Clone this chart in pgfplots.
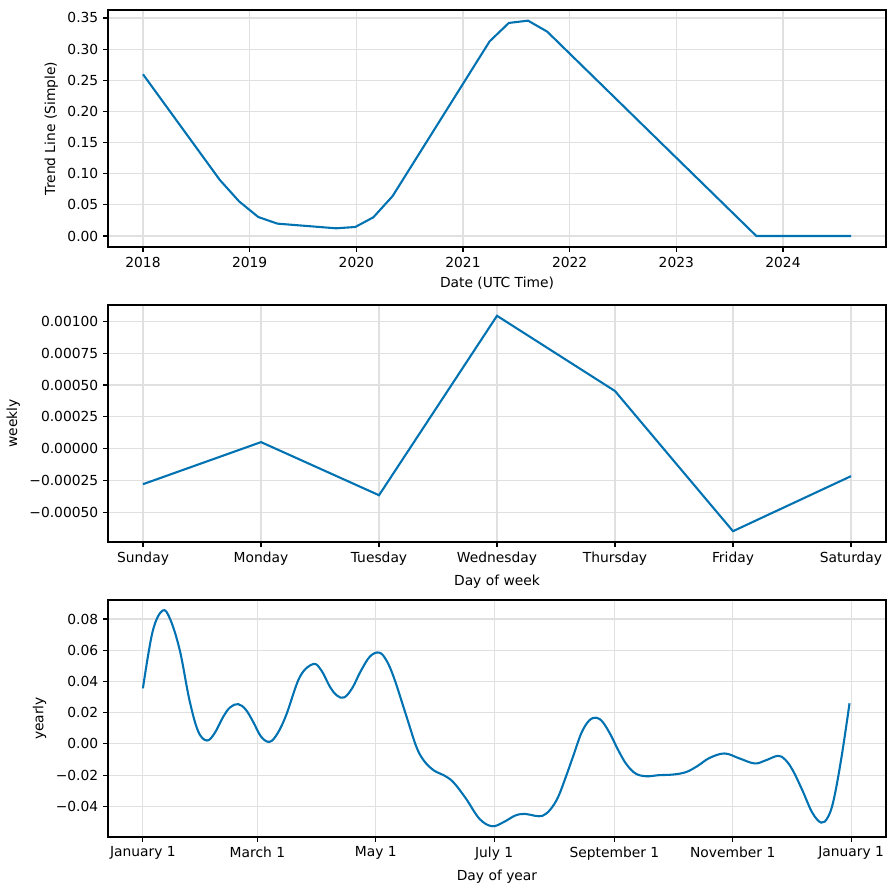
\documentclass[border=0pt]{standalone}
\usepackage{pgfplots}
\pgfplotsset{compat=1.18}
\usepackage{fontspec}
\setmainfont{DejaVu Sans}
\definecolor{pline}{HTML}{0072B2}
\pgfplotsset{
  every axis/.append style={
    scale only axis,
    width=560.16bp, height=170.64bp,
    anchor=south west,
    axis line style={line width=0.8bp},
    tick pos=left,
    tick align=outside,
    major tick length=3.5bp,
    every tick/.style={black, line width=0.8bp},
    grid=major,
    major grid style={black!12, line width=0.8bp},
    scaled ticks=false,
    tick label style={font=\fontsize{10}{12}\selectfont},
    label style={font=\fontsize{10}{12}\selectfont},
    /pgf/number format/assume math mode=true,
  },
}
\begin{document}
\begin{tikzpicture}
\path[use as bounding box] (0,0) rectangle (644.4bp,640.8bp);
% Panel 1
\begin{axis}[at={(77.76bp,462.96bp)},
  xmin=2017.672, xmax=2024.966, ymin=-0.0177, ymax=0.3628,
  xtick={2018,2019,2020,2021,2022,2023,2024},
  xticklabels={2018,2019,2020,2021,2022,2023,2024},
  ytick={0,0.05,0.1,0.15,0.2,0.25,0.3,0.35},
  yticklabels={0.00,0.05,0.10,0.15,0.20,0.25,0.30,0.35},
  xlabel={Date (UTC Time)}, ylabel={Trend Line (Simple)}]
\addplot[pline, line width=1.5bp] coordinates {
(2018.00,0.2596) (2018.72,0.0900) (2018.90,0.0557) (2019.08,0.0305)
(2019.26,0.0198) (2019.81,0.0123) (2019.99,0.0144) (2020.16,0.0300)
(2020.34,0.0640) (2021.25,0.3125) (2021.43,0.3420) (2021.61,0.3457)
(2021.79,0.3280) (2023.75,0.0000) (2024.64,0.0000)
};
\end{axis}
% Panel 2
\begin{axis}[at={(77.76bp,250.56bp)},
  xmin=-0.297, xmax=6.297, ymin=-0.000735, ymax=0.00113,
  xtick={0,1,2,3,4,5,6},
  xticklabels={Sunday,Monday,Tuesday,Wednesday,Thursday,Friday,Saturday},
  ytick={-0.0005,-0.00025,0,0.00025,0.0005,0.00075,0.001},
  yticklabels={−0.00050,−0.00025,0.00000,0.00025,0.00050,0.00075,0.00100},
  xlabel={Day of week}, ylabel={weekly}]
\addplot[pline, line width=1.5bp] coordinates {
(0,-0.000280) (1,0.000051) (2,-0.000367) (3,0.001045)
(4,0.000453) (5,-0.000650) (6,-0.000217)
};
\end{axis}
% Panel 3
\begin{axis}[at={(77.76bp,38.16bp)},
  xmin=-18.0, xmax=383.0, ymin=-0.0596, ymax=0.0922,
  xtick={0,59,120,181,243,304,365},
  xticklabels={January 1,March 1,May 1,July 1,September 1,November 1,January 1},
  ytick={-0.04,-0.02,0,0.02,0.04,0.06,0.08},
  yticklabels={−0.04,−0.02,0.00,0.02,0.04,0.06,0.08},
  xlabel={Day of year}, ylabel={yearly}]
\addplot[pline, line width=1.5bp, smooth, tension=0.6] coordinates {
(0,0.0356) (5,0.0720) (10.1,0.0854) (14,0.0800) (19,0.0600) (24,0.0280)
(28.5,0.0080) (33,0.0022) (37,0.0070) (41.4,0.0174) (45,0.0235) (49.1,0.0255)
(53,0.0220) (56.8,0.0142) (61,0.0045) (65.4,0.0014) (69.5,0.0070) (74,0.0190)
(80.9,0.0430) (87.8,0.0512) (92,0.0470) (96.4,0.0366) (100,0.0310) (103.8,0.0298)
(108,0.0360) (112,0.0460) (117,0.0560) (121.8,0.0585) (125.5,0.0535) (129.5,0.0420)
(135.9,0.0174) (141,-0.0020) (145,-0.0110) (150,-0.0170) (155,-0.0200)
(160,-0.0245) (166.5,-0.0350) (173.5,-0.0480) (180,-0.0527) (186,-0.0500)
(192,-0.0458) (197,-0.0448) (202,-0.0460) (206,-0.0460) (210,-0.0420)
(214,-0.0340) (218,-0.0210) (222,-0.0070) (226,0.0070) (230,0.0150) (233.7,0.0168)
(237,0.0140) (241,0.0060) (245,-0.0040) (249.2,-0.0130) (254,-0.0190) (259.5,-0.0207)
(266,-0.0200) (273.2,-0.0196) (280,-0.0180) (286,-0.0140) (292,-0.0090) (299.8,-0.0061)
(307.5,-0.0093) (315.3,-0.0125) (321,-0.0105) (327.3,-0.0076) (331,-0.0100)
(335,-0.0170) (340,-0.0300) (345,-0.0440) (349.6,-0.0504) (353,-0.0470)
(356,-0.0360) (360,-0.0090) (364.2,0.0260)
};
\end{axis}
\end{tikzpicture}
\end{document}
